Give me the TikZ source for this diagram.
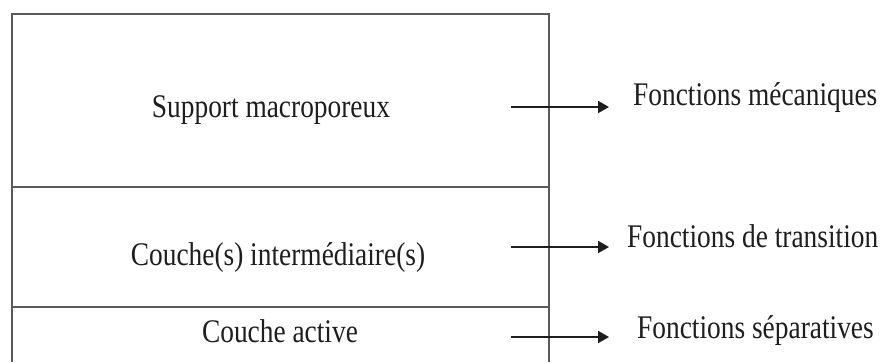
\documentclass[tikz,border=0pt]{standalone}
\usepackage{fontspec}
\setmainfont{Liberation Serif}[FakeStretch=0.83]
\usepackage{xcolor}
\usetikzlibrary{positioning}
\usetikzlibrary{arrows.meta}
\usetikzlibrary{calc}
\definecolor{rule}{HTML}{5A5A5A}
\definecolor{ink}{HTML}{1E1E1E}
\tikzset{
  % The layered membrane: outer walls and separations
  wall/.style={draw=rule, line width=1.6pt},
  % A layer name, centred in its band
  layer/.style={font=\fontsize{33}{40}\selectfont, text=ink, inner sep=0pt, anchor=base},
  % A function name, to the right of the arrows
  func/.style={font=\fontsize{33}{40}\selectfont, text=ink, inner sep=0pt, anchor=base west},
  % Arrows from a layer to its function
  gives/.style={-{Triangle[length=11pt, width=12pt]}, draw=ink, line width=2pt},
}

\begin{document}
\begin{tikzpicture}[x=1pt, y=-1pt]
\useasboundingbox (0,0) rectangle (890,362);

% membrane cross-section (open at the bottom)
\draw[wall] (12,362) -- (12,14) -- (549,14) -- (549,362);
\draw[wall] (12,187) -- (549,187);
\draw[wall] (12,307) -- (549,307);

\node[layer] (sup) at (271,117) {Support macroporeux};
\node[layer] (inter) at (278,265) {Couche(s) interm\'ediaire(s)};
\node[layer] (act) at (280,342) {Couche active};

\node[func] (meca) at (633,105) {Fonctions m\'ecaniques};
\node[func] (trans) at (627,247) {Fonctions de transition};
\node[func] (sep) at (637,338) {Fonctions s\'eparatives};

\coordinate (s1) at (511,107);
\coordinate (s2) at (511,247);
\coordinate (s3) at (511,337);

\draw[gives, shorten >=24pt] (s1) -- (s1 -| meca.west);
\draw[gives, shorten >=18pt] (s2) -- (s2 -| trans.west);
\draw[gives, shorten >=28pt] (s3) -- (s3 -| sep.west);

\end{tikzpicture}
\end{document}
